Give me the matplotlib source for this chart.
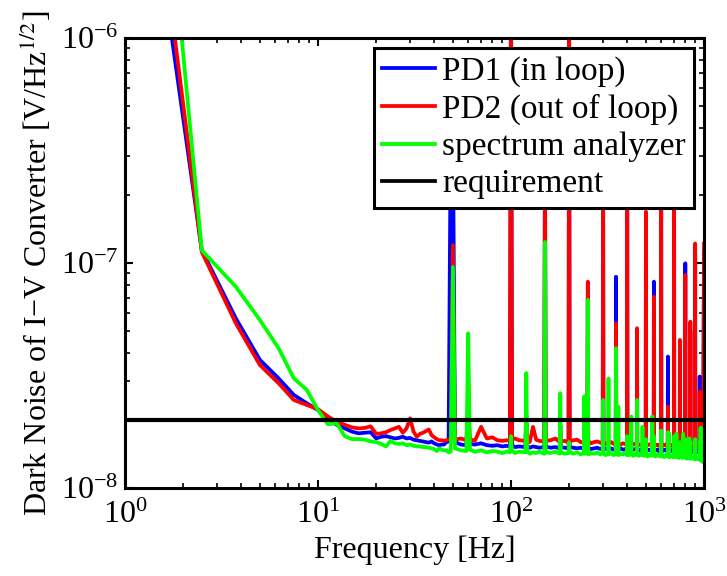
import numpy as np
import matplotlib
matplotlib.use('Agg')
import matplotlib.pyplot as plt
from matplotlib.ticker import LogLocator, NullFormatter

plt.rcParams['font.family'] = ['Liberation Serif', 'DejaVu Serif']
plt.rcParams['mathtext.fontset'] = 'stix'

SCALE = 1e-8

# ---------------- low-frequency part: 1.25 ... 50 Hz (1.25 Hz bins) ----------------
lf_f = np.arange(1, 41) * 1.25

pd1_lf = [770, 11.4, 5.68, 3.71, 3.07, 2.59, 2.38, 2.22, 2.04, 1.91,
          1.84, 1.78, 1.75, 1.76, 1.77, 1.66, 1.69, 1.70, 1.68, 1.66,
          1.67, 1.69, 1.66, 1.67, 1.64, 1.63, 1.62, 1.61, 1.60, 1.59,
          1.61, 1.58, 1.56, 1.55, 1.56, 1.56, 1.60, 1.61, 40, 40]
pd2_lf = [1250, 11.2, 5.40, 3.52, 2.92, 2.46, 2.34, 2.24, 2.08, 1.97,
          1.91, 1.86, 1.84, 1.85, 1.88, 1.74, 1.75, 1.77, 1.81, 1.84,
          1.87, 1.76, 1.84, 2.04, 1.78, 1.69, 1.74, 1.76, 1.79, 1.82,
          1.72, 1.68, 1.65, 1.63, 1.63, 1.62, 1.63, 1.64, 1.65, 12]
sa_lf = [6000, 11.4, 7.85, 5.58, 4.18, 3.07, 2.73, 2.22, 1.92, 1.94,
         1.70, 1.65, 1.65, 1.64, 1.61, 1.60, 1.57, 1.53, 1.62, 1.58,
         1.57, 1.58, 1.55, 1.56, 1.54, 1.53, 1.53, 1.52, 1.52, 1.51,
         1.50, 1.49, 1.46, 1.50, 1.48, 1.47, 1.47, 1.44, 1.45, 9.6]

# ---------------- high-frequency background points ----------------
hf_f = [51.25, 55, 58.75, 61.25, 65, 70, 75, 80, 85, 90,
        95, 98.75, 101.25, 105, 110, 118.75, 121.25, 125, 130, 135,
        140, 148.75, 151.25, 160, 170, 178.75, 181.25, 190, 198.75, 201.25,
        210, 220, 230, 238.75, 241.25, 248.75, 251.25, 260, 270, 280,
        290, 298.75, 301.25, 310, 318.75, 321.25, 330, 340, 348.75, 351.25,
        358.75, 361.25, 370, 380, 390, 398.75, 401.25, 410, 418.75, 421.25,
        430, 440, 448.75, 451.25, 460, 470, 478.75, 481.25, 490, 498.75,
        501.25, 510, 520, 530, 538.75, 541.25, 548.75, 551.25, 560, 570,
        580, 590, 598.75, 601.25, 610, 620, 630, 640, 648.75, 651.25,
        658.75, 661.25, 670, 680, 690, 698.75, 701.25, 710, 718.75, 721.25,
        730, 740, 748.75, 751.25, 760, 770, 778.75, 781.25, 790, 798.75,
        801.25, 810, 820, 830, 838.75, 841.25, 848.75, 851.25, 860, 870,
        880, 890, 898.75, 901.25, 910, 920, 930, 940, 948.75, 951.25,
        958.75, 961.25, 970, 980, 990]

pd1_hf = [1.60, 1.56, 1.55, 1.57, 1.56, 1.58, 1.55, 1.54, 1.55, 1.53,
          1.54, 1.53, 1.55, 1.52, 1.53, 1.52, 1.54, 1.51, 1.53, 1.52,
          1.51, 1.52, 1.53, 1.51, 1.52, 1.50, 1.52, 1.51, 1.50, 1.52,
          1.51, 1.50, 1.51, 1.49, 1.51, 1.50, 1.51, 1.49, 1.50, 1.51,
          1.49, 1.50, 1.51, 1.49, 1.50, 1.49, 1.50, 1.48, 1.49, 1.50,
          1.48, 1.49, 1.50, 1.48, 1.49, 1.48, 1.50, 1.49, 1.48, 1.49,
          1.48, 1.49, 1.48, 1.49, 1.47, 1.48, 1.49, 1.47, 1.48, 1.47,
          1.49, 1.48, 1.47, 1.48, 1.47, 1.49, 1.47, 1.48, 1.47, 1.48,
          1.46, 1.48, 1.47, 1.48, 1.46, 1.47, 1.48, 1.46, 1.47, 1.48,
          1.46, 1.47, 1.48, 1.46, 1.47, 1.46, 1.48, 1.47, 1.46, 1.47,
          1.46, 1.47, 1.45, 1.47, 1.46, 1.47, 1.45, 1.46, 1.47, 1.45,
          1.47, 1.46, 1.45, 1.46, 1.45, 1.47, 1.45, 1.46, 1.45, 1.46,
          1.44, 1.46, 1.45, 1.46, 1.44, 1.45, 1.46, 1.44, 1.45, 1.46,
          1.44, 1.45, 1.44, 1.46, 1.45]
pd2_hf = [1.64, 1.66, 1.63, 1.65, 1.62, 1.87, 1.66, 1.68, 1.63, 1.62,
          1.63, 1.62, 1.64, 1.66, 1.63, 1.62, 1.64, 1.60, 1.87, 1.64,
          1.62, 1.61, 1.62, 1.63, 1.66, 1.60, 1.61, 1.62, 1.59, 1.61,
          1.63, 1.64, 1.60, 1.59, 1.61, 1.60, 1.62, 1.58, 1.60, 1.61,
          1.59, 1.58, 1.60, 1.57, 1.59, 1.58, 1.60, 1.57, 1.58, 1.59,
          1.57, 1.58, 1.56, 1.58, 1.57, 1.56, 1.58, 1.57, 1.56, 1.58,
          1.56, 1.57, 1.55, 1.57, 1.56, 1.55, 1.57, 1.56, 1.55, 1.56,
          1.57, 1.55, 1.56, 1.57, 1.55, 1.56, 1.54, 1.56, 1.55, 1.56,
          1.54, 1.56, 1.55, 1.56, 1.54, 1.55, 1.56, 1.54, 1.55, 1.56,
          1.54, 1.55, 1.56, 1.54, 1.55, 1.54, 1.56, 1.55, 1.54, 1.55,
          1.53, 1.55, 1.54, 1.55, 1.53, 1.54, 1.55, 1.53, 1.54, 1.53,
          1.55, 1.54, 1.53, 1.54, 1.53, 1.55, 1.53, 1.54, 1.53, 1.54,
          1.52, 1.54, 1.53, 1.54, 1.52, 1.53, 1.54, 1.52, 1.53, 1.54,
          1.52, 1.53, 1.52, 1.54, 1.53]
sa_hf = [1.50, 1.47, 1.46, 1.48, 1.45, 1.47, 1.44, 1.46, 1.45, 1.43,
         1.45, 1.44, 1.46, 1.43, 1.45, 1.44, 1.46, 1.42, 1.44, 1.43,
         1.45, 1.42, 1.44, 1.43, 1.45, 1.42, 1.44, 1.42, 1.43, 1.45,
         1.42, 1.44, 1.41, 1.43, 1.42, 1.44, 1.41, 1.43, 1.42, 1.44,
         1.41, 1.43, 1.42, 1.40, 1.43, 1.41, 1.43, 1.40, 1.42, 1.41,
         1.43, 1.40, 1.42, 1.41, 1.43, 1.40, 1.42, 1.40, 1.42, 1.41,
         1.39, 1.42, 1.40, 1.41, 1.39, 1.42, 1.40, 1.41, 1.39, 1.41,
         1.40, 1.38, 1.41, 1.39, 1.40, 1.42, 1.39, 1.40, 1.38, 1.41,
         1.39, 1.40, 1.38, 1.41, 1.39, 1.37, 1.40, 1.38, 1.40, 1.39,
         1.37, 1.40, 1.38, 1.39, 1.37, 1.40, 1.38, 1.39, 1.37, 1.39,
         1.38, 1.36, 1.39, 1.37, 1.38, 1.36, 1.39, 1.37, 1.38, 1.36,
         1.38, 1.37, 1.35, 1.38, 1.36, 1.37, 1.35, 1.38, 1.36, 1.37,
         1.35, 1.37, 1.36, 1.34, 1.37, 1.35, 1.36, 1.34, 1.36, 1.35,
         1.33, 1.35, 1.32, 1.34, 1.30]

# ---------------- line (harmonic) peaks ----------------
pk_f = [60, 100, 120, 150, 180, 200, 250, 300, 350, 400, 450,
        500, 550, 600, 650, 700, 750, 800, 850, 900, 950, 1000]
pd1_pk = [2.0, 200, 2.1, 30, 1.9, 200, 7.0, 35, 8.69, 35, 4.5,
          14, 8.26, 35, 3.84, 35, 4.0, 9.97, 5.0, 11, 3.13, 11]
pd2_pk = [2.3, 300, 1.9, 50, 1.9, 300, 8.26, 40, 5.4, 40, 5.13,
          16.9, 7.08, 40, 2.3, 40, 4.55, 8.85, 5.49, 12.2, 2.68, 12.2]

sa_pk_f = [60, 100, 120, 150, 180, 200, 240, 250, 300, 320, 350,
           360, 400, 420, 450, 480, 500, 540, 550, 600, 650, 660,
           700, 720, 750, 780, 800, 840, 850, 900, 950, 960, 1000]
sa_pk = [4.87, 1.7, 3.24, 12.4, 2.64, 1.6, 2.56, 6.86, 2.46, 3.07, 4.18,
         2.3, 1.7, 2.08, 2.46, 1.87, 1.65, 2.08, 1.7, 1.8, 1.77, 1.75,
         1.7, 1.74, 1.6, 1.74, 1.65, 1.66, 1.6, 1.65, 1.6, 1.85, 1.84]

requirement = 2e-8
labels = ['PD1 (in loop)', 'PD2 (out of loop)', 'spectrum analyzer', 'requirement']
colors = ['#0000ff', '#ff0000', '#00ff00', '#000000']


def assemble(parts):
    f = np.concatenate([np.asarray(p[0], float) for p in parts])
    v = np.concatenate([np.asarray(p[1], float) for p in parts]) * SCALE
    o = np.argsort(f, kind='stable')
    return f[o], v[o]


pd1 = assemble([(lf_f, pd1_lf), (hf_f, pd1_hf), (pk_f, pd1_pk)])
pd2 = assemble([(lf_f, pd2_lf), (hf_f, pd2_hf), (pk_f, pd2_pk)])
sa = assemble([(lf_f, sa_lf), (hf_f, sa_hf), (sa_pk_f, sa_pk)])

fig = plt.figure(figsize=(7.27, 5.76), dpi=100)
ax = fig.add_axes([125 / 727, 88 / 576, 579 / 727, 450 / 576])

lw = 2.7
ax.plot(pd1[0], pd1[1], color=colors[0], lw=lw, label=labels[0])
ax.plot(pd2[0], pd2[1], color=colors[1], lw=lw, label=labels[1])
ax.plot(sa[0], sa[1], color=colors[2], lw=lw, label=labels[2])
ax.axhline(requirement, color=colors[3], lw=3.0, label=labels[3])

ax.set_xscale('log')
ax.set_yscale('log')
ax.set_xlim(1, 1000)
ax.set_ylim(1e-8, 1e-6)

ax.xaxis.set_major_locator(LogLocator(base=10, numticks=10))
ax.yaxis.set_major_locator(LogLocator(base=10, numticks=10))
ax.xaxis.set_minor_locator(LogLocator(base=10, subs=np.arange(2, 10), numticks=20))
ax.yaxis.set_minor_locator(LogLocator(base=10, subs=np.arange(2, 10), numticks=20))
ax.xaxis.set_minor_formatter(NullFormatter())
ax.yaxis.set_minor_formatter(NullFormatter())

ax.tick_params(which='both', direction='in', top=True, right=True, labelsize=23)
ax.tick_params(which='major', length=6, width=1.5)
ax.tick_params(which='minor', length=3.5, width=1.2)
ax.tick_params(axis='x', which='major', pad=9)
ax.tick_params(axis='y', which='major', pad=5)
for s in ax.spines.values():
    s.set_linewidth(2.2)

ax.set_xlabel('Frequency [Hz]', fontsize=23, labelpad=4)
ax.set_ylabel('Dark Noise of I\u2212V Converter [V/Hz$^{1/2}$]', fontsize=23, labelpad=5)

leg = ax.legend(loc='upper right', fontsize=24, frameon=True, fancybox=False,
                framealpha=1, edgecolor='black', borderaxespad=0.3,
                borderpad=0.25, labelspacing=0.2, handlelength=1.6,
                handletextpad=0.2)
leg.get_frame().set_linewidth(2.2)
for h in leg.get_lines():
    h.set_linewidth(2.7)

fig.savefig('out.png', dpi=100)
